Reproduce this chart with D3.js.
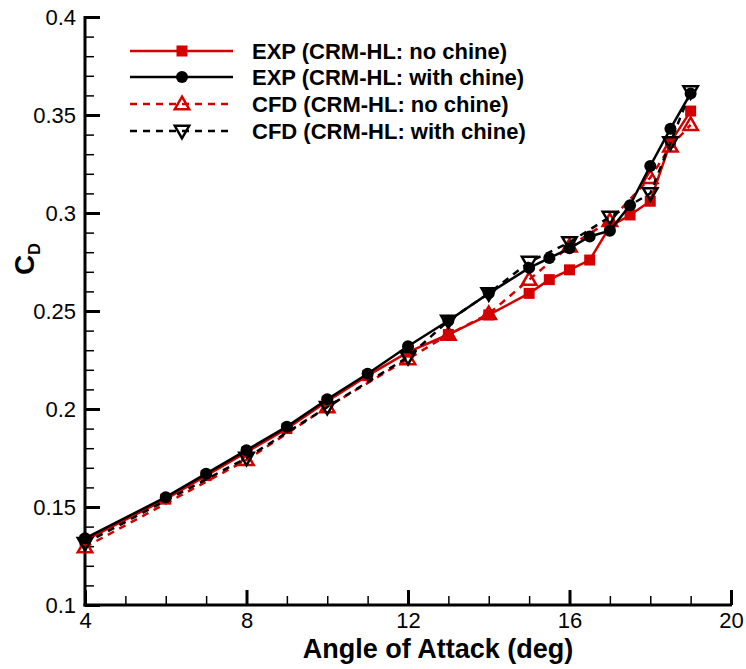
<!DOCTYPE html>
<html>
<head>
<meta charset="utf-8">
<script src="https://cdn.jsdelivr.net/npm/d3@7"></script>
<style>
  body { margin: 0; background: #fff; }
  text { font-family: "Liberation Sans", Arial, Helvetica, sans-serif; }
</style>
</head>
<body>
<div id="chart"></div>
<script>
// Chart data
var expAlpha = [4, 6, 7, 8, 9, 10, 11, 12, 13, 14, 15, 15.5, 16, 16.5, 17, 17.5, 18, 18.5, 19];
var expNoChine = [0.133, 0.154, 0.166, 0.178, 0.190, 0.204, 0.217, 0.229, 0.238, 0.248, 0.259, 0.266, 0.271, 0.276, 0.293, 0.299, 0.306, 0.336, 0.352];
var expChine = [0.134, 0.155, 0.167, 0.179, 0.191, 0.205, 0.218, 0.232, 0.245, 0.259, 0.272, 0.277, 0.282, 0.288, 0.291, 0.304, 0.324, 0.343, 0.361];

var cfdAlpha = [4, 8, 10, 12, 13, 14, 15, 16, 17, 18, 18.5, 19];
var cfdNoChine = [0.1295, 0.174, 0.201, 0.2255, 0.238, 0.2485, 0.266, 0.283, 0.296, 0.318, 0.334, 0.345];
var cfdChine = [0.1315, 0.175, 0.201, 0.2265, 0.245, 0.259, 0.275, 0.285, 0.298, 0.310, 0.336, 0.362];

var xTicks = [4, 8, 12, 16, 20];
var yTicks = [0.1, 0.15, 0.2, 0.25, 0.3, 0.35, 0.4];
var seriesNames = ["EXP (CRM-HL: no chine)", "EXP (CRM-HL: with chine)", "CFD (CRM-HL: no chine)", "CFD (CRM-HL: with chine)"];

var RED = "#d40000";

var svgWidth = 746;
var svgHeight = 669;

var svg = d3.select("#chart")
  .append("svg")
  .attr("width", svgWidth)
  .attr("height", svgHeight);

var x = d3.scaleLinear().domain([4, 20]).range([85, 731]);
var y = d3.scaleLinear().domain([0.1, 0.4]).range([605, 17]);

// minor ticks (inward)
var xMinor = d3.range(4, 20.01, 1);
var yMinor = d3.range(0.1, 0.4001, 0.01);

svg.append("g")
  .attr("transform", "translate(0," + y(0.1) + ")")
  .call(d3.axisBottom(x).tickValues(xMinor).tickSize(-9).tickFormat(""))
  .call(g => g.select(".domain").remove())
  .selectAll("line").attr("stroke", "#000").attr("stroke-width", 1.5);

svg.append("g")
  .attr("transform", "translate(" + x(4) + ",0)")
  .call(d3.axisLeft(y).tickValues(yMinor).tickSize(-9).tickFormat(""))
  .call(g => g.select(".domain").remove())
  .selectAll("line").attr("stroke", "#000").attr("stroke-width", 1.5);

// major ticks + labels
var xAxis = svg.append("g")
  .attr("transform", "translate(0," + y(0.1) + ")")
  .call(d3.axisBottom(x).tickValues(xTicks).tickSize(-15).tickFormat(d3.format("d")));
xAxis.select(".domain").remove();
xAxis.selectAll("line").attr("stroke", "#000").attr("stroke-width", 3);
xAxis.selectAll("text")
  .attr("font-size", 22).attr("fill", "#000")
  .attr("dy", null).attr("y", 23);

var yAxis = svg.append("g")
  .attr("transform", "translate(" + x(4) + ",0)")
  .call(d3.axisLeft(y).tickValues(yTicks).tickSize(-15).tickFormat(d => String(+d.toFixed(2))));
yAxis.select(".domain").remove();
yAxis.selectAll("line").attr("stroke", "#000").attr("stroke-width", 3);
yAxis.selectAll("text")
  .attr("font-size", 22).attr("fill", "#000")
  .attr("x", -9);

// axis lines
svg.append("line")
  .attr("x1", x(4) - 1.5).attr("x2", x(20) + 1)
  .attr("y1", y(0.1)).attr("y2", y(0.1))
  .attr("stroke", "#000").attr("stroke-width", 3);
svg.append("line")
  .attr("x1", x(4)).attr("x2", x(4))
  .attr("y1", y(0.1) + 1.5).attr("y2", y(0.4) - 1)
  .attr("stroke", "#000").attr("stroke-width", 3);

// series
var series = [
  {alpha: expAlpha, vals: expNoChine, color: RED, dash: null, marker: "square"},
  {alpha: expAlpha, vals: expChine, color: "#000", dash: null, marker: "circle"},
  {alpha: cfdAlpha, vals: cfdNoChine, color: RED, dash: "7,6", marker: "triUp"},
  {alpha: cfdAlpha, vals: cfdChine, color: "#000", dash: "7,6", marker: "triDown"}
];

var line = d3.line().x(d => x(d[0])).y(d => y(d[1]));

function drawMarker(g, type, cx, cy, color) {
  if (type === "square") {
    g.append("rect").attr("x", cx - 5.5).attr("y", cy - 5.5)
      .attr("width", 11).attr("height", 11).attr("fill", color);
  } else if (type === "circle") {
    g.append("circle").attr("cx", cx).attr("cy", cy).attr("r", 6).attr("fill", color);
  } else if (type === "triUp") {
    var s = d3.symbol().type(d3.symbolTriangle).size(90);
    g.append("path").attr("d", s()).attr("transform", "translate(" + cx + "," + (cy + 1) + ")")
      .attr("fill", "none").attr("stroke", color).attr("stroke-width", 2.5);
  } else {
    var s2 = d3.symbol().type(d3.symbolTriangle).size(90);
    g.append("path").attr("d", s2()).attr("transform", "translate(" + cx + "," + (cy - 1) + ") rotate(180)")
      .attr("fill", "none").attr("stroke", color).attr("stroke-width", 2.5);
  }
}

var plot = svg.append("g");
// draw in order so black lines overlay red
[0, 2, 1, 3].forEach(function(i) {
  var s = series[i];
  var pts = s.alpha.map((a, j) => [a, s.vals[j]]);
  plot.append("path")
    .attr("d", line(pts))
    .attr("fill", "none")
    .attr("stroke", s.color)
    .attr("stroke-width", 2.5)
    .attr("stroke-dasharray", s.dash);
  pts.forEach(function(p) {
    drawMarker(plot, s.marker, x(p[0]), y(p[1]), s.color);
  });
});

// legend
var legend = svg.append("g");
var legendY = [51, 77, 104, 131];
series.forEach(function(s, i) {
  var ly = legendY[i];
  legend.append("line")
    .attr("x1", 130).attr("x2", 233)
    .attr("y1", ly).attr("y2", ly)
    .attr("stroke", s.color).attr("stroke-width", 2.5)
    .attr("stroke-dasharray", s.dash);
  drawMarker(legend, s.marker, 182, ly, s.color);
  legend.append("text")
    .attr("x", 252).attr("y", ly)
    .attr("dy", "0.35em")
    .attr("font-size", 22)
    .attr("font-weight", "bold")
    .text(seriesNames[i]);
});

// axis titles
svg.append("text")
  .attr("x", 438)
  .attr("y", 658)
  .attr("text-anchor", "middle")
  .attr("font-size", 27)
  .attr("font-weight", "bold")
  .text("Angle of Attack (deg)");

var yLab = svg.append("text")
  .attr("transform", "translate(34,275) rotate(-90)")
  .attr("font-size", 28)
  .attr("font-weight", "bold");
yLab.append("tspan").text("C");
yLab.append("tspan").attr("font-size", 16).attr("dy", 6).text("D");
</script>
</body>
</html>
